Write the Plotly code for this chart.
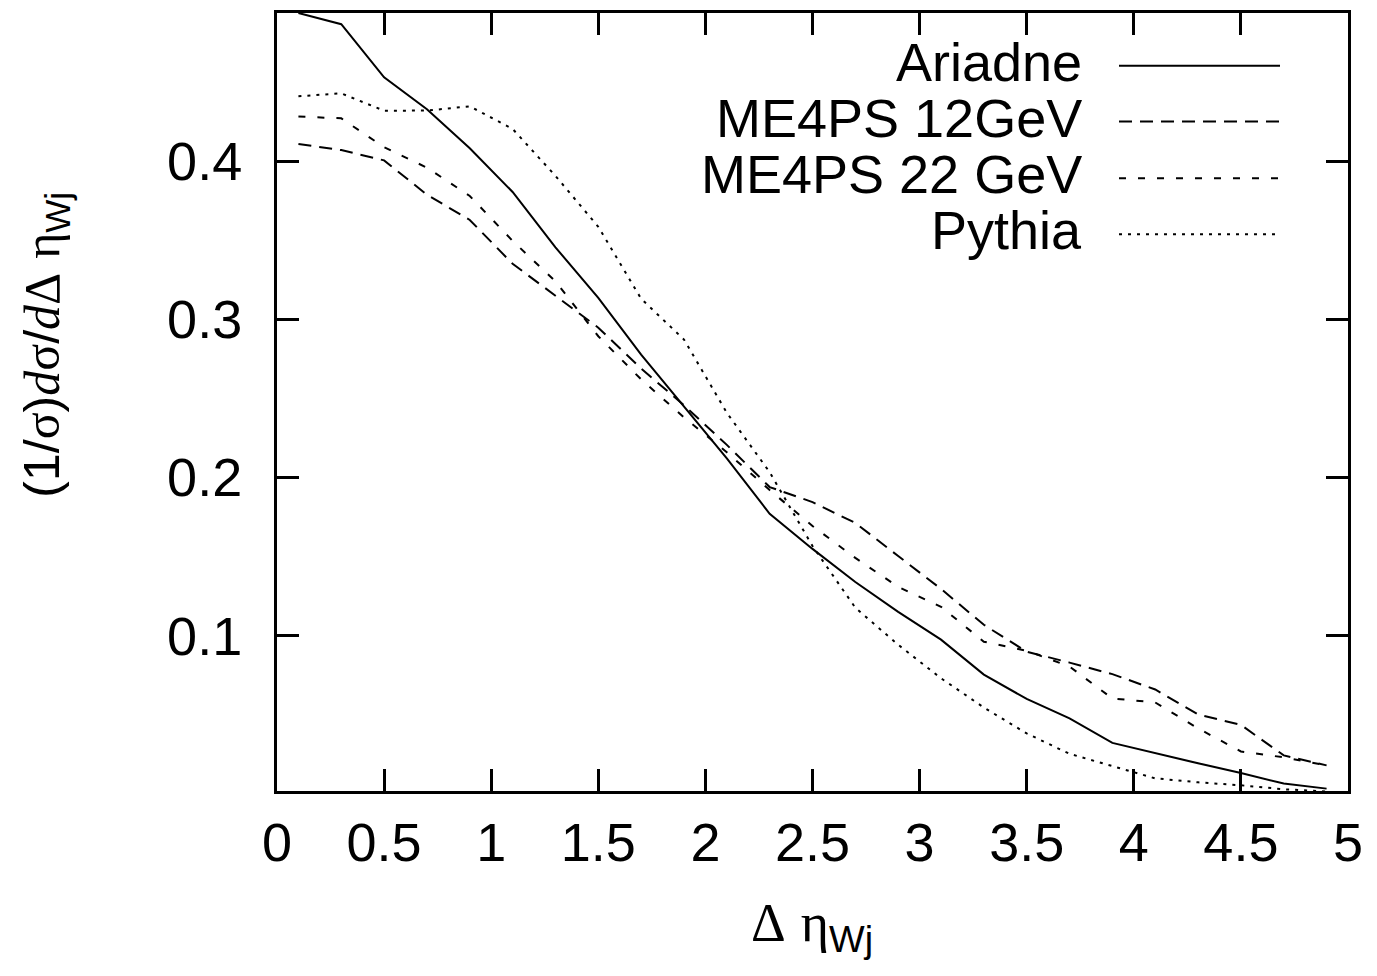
import plotly.graph_objects as go

# ---- data ----
x_bins = [0.1, 0.3, 0.5, 0.7, 0.9, 1.1, 1.3, 1.5, 1.7, 1.9, 2.1, 2.3, 2.5,
          2.7, 2.9, 3.1, 3.3, 3.5, 3.7, 3.9, 4.1, 4.3, 4.5, 4.7, 4.9]

ariadne = [0.4938, 0.4867, 0.4531, 0.4329, 0.4083, 0.3806, 0.3456, 0.3137,
           0.2778, 0.2447, 0.2122, 0.1771, 0.1549, 0.1340, 0.1151, 0.0975,
           0.0754, 0.0600, 0.0477, 0.0322, 0.0256, 0.0193, 0.0132, 0.0065,
           0.0033]

me4ps_12 = [0.4110, 0.4071, 0.4006, 0.3789, 0.3629, 0.3352, 0.3150, 0.2948,
            0.2690, 0.2457, 0.2207, 0.1940, 0.1845, 0.1713, 0.1504, 0.1296,
            0.1069, 0.0899, 0.0830, 0.0757, 0.0660, 0.0502, 0.0436, 0.0243,
            0.0180]

me4ps_22 = [0.4283, 0.4272, 0.4089, 0.3960, 0.3781, 0.3497, 0.3241, 0.2894,
            0.2621, 0.2381, 0.2160, 0.1921, 0.1694, 0.1492, 0.1309, 0.1183,
            0.0962, 0.0905, 0.0805, 0.0603, 0.0578, 0.0414, 0.0268, 0.0231,
            0.0180]

pythia = [0.4411, 0.4430, 0.4320, 0.4321, 0.4348, 0.4205, 0.3908, 0.3586,
          0.3131, 0.2873, 0.2410, 0.2034, 0.1567, 0.1177, 0.0943, 0.0731,
          0.0546, 0.0382, 0.0253, 0.0174, 0.0098, 0.0073, 0.0054, 0.0029,
          0.0015]

series_names = ["Ariadne", "ME4PS 12GeV", "ME4PS 22 GeV", "Pythia"]
series_values = [ariadne, me4ps_12, me4ps_22, pythia]
series_dash = ["solid", "13px,8px", "7px,12px", "3px,6px"]

x_tickvals = [0, 0.5, 1, 1.5, 2, 2.5, 3, 3.5, 4, 4.5, 5]
x_ticktext = ["0", "0.5", "1", "1.5", "2", "2.5", "3", "3.5", "4", "4.5", "5"]
y_tickvals = [0.1, 0.2, 0.3, 0.4]
y_ticktext = ["0.1", "0.2", "0.3", "0.4"]

FONT = "Liberation Sans, Arial, Helvetica, sans-serif"
SERIF = "Liberation Serif"
FS = 54

fig = go.Figure()
for name, vals, dash in zip(series_names, series_values, series_dash):
    fig.add_trace(go.Scatter(x=x_bins, y=vals, mode="lines", name=name,
                             line=dict(color="black", width=2, dash=dash),
                             showlegend=False))

# page body has an 8px margin; target plot area on screen: x 277..1348, y 10..791
OFF = 8
L, R, T, B = 277 - OFF, 1348 - OFF, 10 - OFF, 791 - OFF
W, H = 1377, 976

def px_x(p):
    return (p - OFF - L) / (R - L)

def px_y(p):
    return (B - (p - OFF)) / (B - T)

# custom gnuplot-style key: right-aligned text, line sample to the right
key_rows = [63, 119, 176, 232]
for name, dash, ry in zip(series_names, series_dash, key_rows):
    fig.add_annotation(xref="paper", yref="paper", x=px_x(1084), y=px_y(ry - 4),
                       text=name, showarrow=False, xanchor="right",
                       yanchor="middle", font=dict(family=FONT, size=FS, color="black"))
    fig.add_shape(type="line", xref="paper", yref="paper",
                  x0=px_x(1119), x1=px_x(1280), y0=px_y(ry), y1=px_y(ry),
                  line=dict(color="black", width=2, dash=dash))

def sp(t, italic=False):
    inner = f"<i>{t}</i>" if italic else t
    return f"<span style='font-family:{SERIF}'>{inner}</span>"

xtitle = f"{sp('Δ')} {sp('η')}<sub>Wj</sub>"
ytitle = (f"(1/{sp('σ')}){sp('d', True)}{sp('σ')}/{sp('d', True)}"
          f"{sp('Δ')} {sp('η')}<sub>Wj</sub>")

fig.add_annotation(xref="paper", yref="paper", x=px_x(812), y=px_y(927),
                   text=xtitle, showarrow=False, xanchor="center", yanchor="middle",
                   font=dict(family=FONT, size=FS, color="black"))
fig.add_annotation(xref="paper", yref="paper", x=px_x(46), y=px_y(343),
                   text=ytitle, showarrow=False, textangle=-90,
                   xanchor="center", yanchor="middle",
                   font=dict(family=FONT, size=50, color="black"))

axis_common = dict(showline=True, linewidth=3, linecolor="black", mirror="ticks",
                   ticks="inside", ticklen=22, tickwidth=3, tickcolor="black",
                   showgrid=False, zeroline=False,
                   tickfont=dict(family=FONT, size=FS, color="black"))

fig.update_xaxes(range=[0, 5], tickmode="array", tickvals=x_tickvals,
                 ticktext=x_ticktext, ticklabelstandoff=2, **axis_common)
fig.update_yaxes(range=[0.0018, 0.4938], tickmode="array", tickvals=y_tickvals,
                 ticktext=y_ticktext, ticklabelstandoff=21, **axis_common)

fig.update_layout(width=W, height=H, autosize=False,
                  margin=dict(l=L, r=W - R, t=T, b=H - B, pad=0),
                  plot_bgcolor="white", paper_bgcolor="white",
                  font=dict(family=FONT, size=FS, color="black"))

fig.write_html("out.html")
